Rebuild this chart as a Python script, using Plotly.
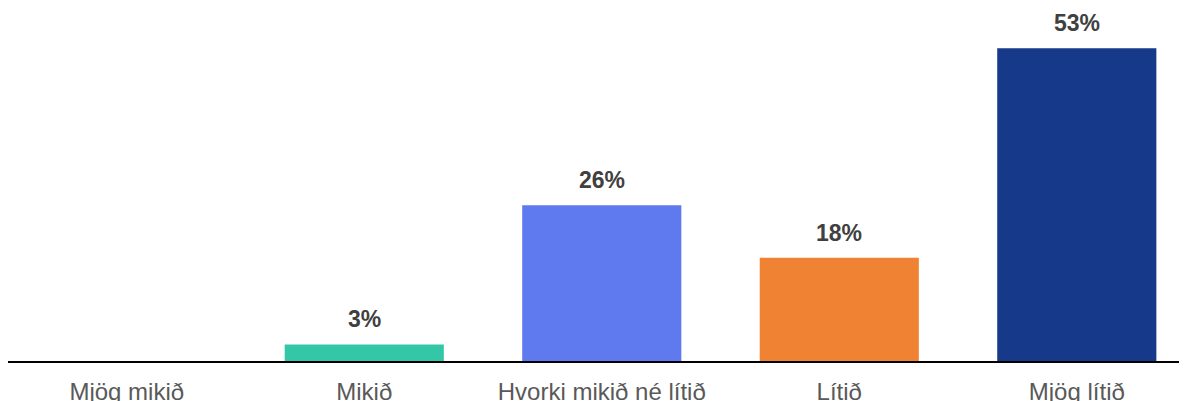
import plotly.graph_objects as go

categories = ["Mjög mikið", "Mikið", "Hvorki mikið né lítið", "Lítið", "Mjög lítið"]
values = [0, 2.8, 26.4, 17.5, 53.0]
colors = ["#33c7a8", "#33c7a8", "#5f7aef", "#f08333", "#16398a"]

xpos = list(range(len(categories)))
labels = ["" if v == 0 else f"{round(v)}%" for v in values]

fig = go.Figure()
fig.add_trace(go.Bar(
    x=xpos, y=values, marker=dict(color=colors, line=dict(width=0)),
    width=0.67, hoverinfo="skip",
))
for x, v, t in zip(xpos, values, labels):
    if t:
        fig.add_annotation(x=x, y=v, text=f"<b>{t}</b>", showarrow=False,
                           yanchor="bottom", yshift=10,
                           font=dict(family="Liberation Sans, Arial", size=23, color="#404040"))

fig.update_layout(
    width=1187, height=401,
    margin=dict(l=0, r=8, t=0, b=48),
    plot_bgcolor="white", paper_bgcolor="white",
    showlegend=False,
    bargap=0.33,
    xaxis=dict(
        range=[-0.5, 4.464], tickmode="array", tickvals=xpos, ticktext=categories,
        showgrid=False, zeroline=False, showline=True, linecolor="#000000", linewidth=2,
        ticks="", ticklabelstandoff=8,
        tickfont=dict(family="Liberation Sans, Arial", size=24, color="#595959"),
        fixedrange=True,
    ),
    yaxis=dict(range=[0, 59.8], visible=False, fixedrange=True),
)

fig.write_html("out.html", config={"displayModeBar": False})
